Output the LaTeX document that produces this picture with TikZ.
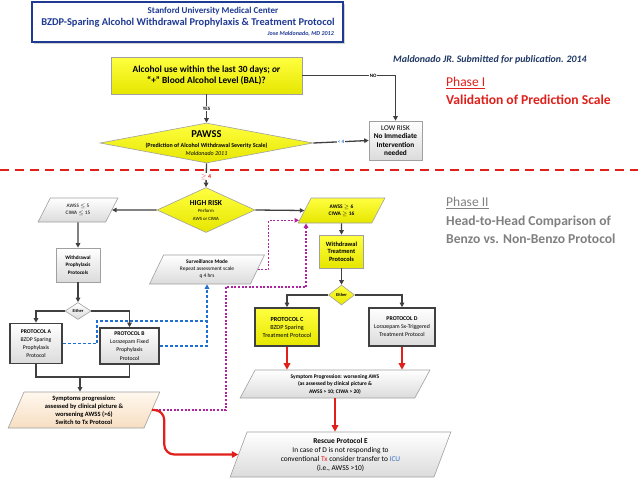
\documentclass[tikz,border=0pt]{standalone}
\usepackage{fontspec}
\setmainfont{Carlito}
\usetikzlibrary{shapes.geometric,arrows.meta,calc,shadows}
\definecolor{hdrblue}{HTML}{1F3A93}
\definecolor{citeblue}{HTML}{203864}
\definecolor{redc}{HTML}{E0201B}
\definecolor{grayt}{HTML}{808080}
\definecolor{dark}{HTML}{404040}
\definecolor{boxgray}{HTML}{A0A0A0}
\definecolor{yel1}{HTML}{FFFF40}
\definecolor{yel2}{HTML}{E6E600}
\definecolor{bluec}{HTML}{1F6FD0}
\definecolor{magc}{HTML}{B0239F}
\definecolor{peach1}{HTML}{FFF8EE}
\definecolor{peach2}{HTML}{F6DEC2}
\definecolor{ltblue}{HTML}{3A6FC0}
\newcommand{\fsz}[2]{\fontsize{#1pt}{#2pt}\selectfont}
\begin{document}
\begin{tikzpicture}[x=1pt,y=-1pt,
  box/.style={draw=boxgray, line width=0.6pt, inner sep=0pt, align=center},
  gfill/.style={top color=white, bottom color=black!14},
  yfill/.style={top color=yel1, bottom color=yel2},
  pfill/.style={top color=peach1, bottom color=peach2},
  protline/.style={draw=dark, line width=1.6pt},
  para/.style={trapezium, trapezium left angle=65, trapezium right angle=115, trapezium stretches=true},
  diam/.style={diamond, draw=boxgray, line width=0.6pt, inner sep=0pt, align=center},
  conn/.style={draw=dark, line width=1.3pt, -{Triangle[length=4.5pt,width=4.5pt]}},
  cline/.style={draw=dark, line width=1.3pt},
  redconn/.style={draw=redc, line width=2.2pt, -{Triangle[length=6.5pt,width=6.5pt]}},
  blued/.style={draw=bluec, line width=1.1pt, dash pattern=on 3pt off 2pt},
  magd/.style={draw=magc, line width=1.2pt, dash pattern=on 2pt off 1.6pt},
  sepline/.style={draw=redc, line width=2pt, dash pattern=on 9pt off 6pt},
  lbl/.style={fill=white, inner sep=1pt, font=\bfseries\fsz{5}{6}},
  txt/.style={inner sep=0pt, align=center}
]
\useasboundingbox (0,0) rectangle (638,479);
\fill[white] (0,0) rectangle (638,479);

% header
\node[draw=hdrblue, line width=1.2pt, fill=white, minimum width=311pt, minimum height=40pt, inner sep=0pt,
  drop shadow={opacity=0.35,shadow xshift=1.5pt,shadow yshift=-1.5pt}] (hdr) at (187.5,22) {};
\node[txt, text=hdrblue, font=\bfseries\fsz{9}{10}] (hdr1) at (213,11) {Stanford University Medical Center};
\node[txt, text=hdrblue, font=\bfseries\fsz{10.4}{12}] (hdr2) at (188,22.5) {BZDP-Sparing Alcohol Withdrawal Prophylaxis \& Treatment Protocol};
\node[txt, text=hdrblue, font=\bfseries\itshape\fsz{6}{7}, anchor=east] (hdr3) at (334,33.5) {Jose Maldonado, MD 2012};

\node[txt, anchor=west, text=citeblue, font=\bfseries\itshape\fsz{9.9}{11}] (cite) at (393,60) {Maldonado JR. Submitted for publication. 2014};

\node[txt, anchor=west, text=redc, font=\fsz{13.5}{15}] (ph1) at (446,83) {\underline{Phase I}};
\node[txt, anchor=west, text=redc, font=\bfseries\fsz{13.6}{15}] (ph1b) at (446,100) {Validation of Prediction Scale};
\node[txt, anchor=west, text=grayt, font=\fsz{13.5}{15}] (ph2) at (446,203) {\underline{Phase II}};
\node[txt, anchor=west, text=grayt, font=\bfseries\fsz{13.6}{15}] (ph2b) at (446,222) {Head-to-Head Comparison of};
\node[txt, anchor=west, text=grayt, font=\bfseries\fsz{13.6}{15}] (ph2c) at (446,239) {Benzo vs. Non-Benzo Protocol};

% separator
\draw[sepline] (0,170) -- (638,170);

% phase I nodes
\node[box, yfill, minimum width=191pt, minimum height=37pt, font=\bfseries\fsz{9.4}{11.5}] (q1) at (206.5,75.5)
  {Alcohol use within the last 30 days; \textit{or}\\“+” Blood Alcohol Level (BAL)?};
\node[box, gfill, minimum width=53pt, minimum height=39pt, font=\fsz{7.3}{8.4}] (low) at (395.5,140.5)
  {LOW RISK\\\textbf{No Immediate}\\\textbf{Intervention}\\\textbf{needed}};
\node[diam, yfill, minimum width=213pt, minimum height=40pt] (pawss) at (206.5,143) {};
\node[txt, font=\fsz{6}{7.2}] (pawsst) at (206.5,143) {{\bfseries\fsz{10.5}{11}PAWSS}\\[3pt]{\bfseries(Prediction of Alcohol Withdrawal Severity Scale)}\\{\itshape Maldonado 2011}};

% phase II nodes
\node[diam, yfill, minimum width=98pt, minimum height=45pt] (highrisk) at (206,210) {};
\node[txt, font=\fsz{4.8}{7.2}] (hrt) at (206,210.5) {{\bfseries\fsz{7.6}{8}HIGH RISK}\\Perform\\AWS or CIWA};

\node[para, box, gfill, minimum width=80pt, minimum height=24pt, font=\fsz{5.2}{7}] (lowsev) at (78,210) {AWSS $\leq$ 5\\CIWA $\leq$ 15};
\node[para, box, yfill, minimum width=87pt, minimum height=25pt, font=\bfseries\fsz{5.4}{7}] (highsev) at (341.5,210.5) {AWSS $\geq$ 6\\CIWA $\geq$ 16};

\node[box, gfill, minimum width=44pt, minimum height=34pt, font=\bfseries\fsz{5.2}{7.4}] (wpp) at (78,265) {Withdrawal\\Prophylaxis\\Protocols};
\node[diam, gfill, minimum width=26pt, minimum height=17pt, font=\bfseries\fsz{4.4}{5}] (eitherL) at (78,311) {Either};
\node[box, gfill, protline, minimum width=52pt, minimum height=40pt, font=\fsz{5.7}{8.2}] (protA) at (36,343.5)
  {\textbf{PROTOCOL A}\\BZDP Sparing\\Prophylaxis\\Protocol};
\node[box, gfill, protline, minimum width=59pt, minimum height=36pt, font=\fsz{5.7}{8.2}] (protB) at (129.5,346)
  {\textbf{PROTOCOL B}\\Lorazepam Fixed\\Prophylaxis\\Protocol};
\node[para, box, pfill, trapezium left angle=70, trapezium right angle=110, minimum width=152pt, minimum height=36pt, font=\bfseries\fsz{6.5}{7.9}] (sympL) at (84,410)
  {Symptoms progression:\\assessed by clinical picture \&\\worsening AWSS (>6)\\Switch to Tx Protocol};

\node[para, box, gfill, minimum width=115pt, minimum height=29pt, font=\fsz{5.4}{7}] (surv) at (207,269.5)
  {\textbf{Surveillance Mode}\\Repeat assessment scale\\q 4 hrs};

\node[box, yfill, minimum width=44pt, minimum height=33pt, font=\bfseries\fsz{6.4}{7.6}] (wtp) at (341.5,251.5) {Withdrawal\\Treatment\\Protocols};
\node[diam, yfill, minimum width=26pt, minimum height=20pt, font=\bfseries\fsz{4.4}{5}] (eitherR) at (341.5,295) {Either};
\node[box, yfill, protline, minimum width=64pt, minimum height=38pt, font=\fsz{6.2}{8}] (protC) at (287,327)
  {\textbf{PROTOCOL C}\\BZDP Sparing\\Treatment Protocol};
\node[box, gfill, protline, minimum width=66pt, minimum height=38pt, font=\fsz{5.8}{8}] (protD) at (402,327)
  {\textbf{PROTOCOL D}\\Lorazepam Sx-Triggered\\Treatment Protocol};
\node[para, box, gfill, trapezium left angle=67, trapezium right angle=113, minimum width=190pt, minimum height=28pt, font=\bfseries\fsz{5.5}{7.5}] (sympR) at (335,384)
  {Symptom Progression: worsening AWS\\(as assessed by clinical picture \&\\AWSS > 10; CIWA > 20)};
\node[para, box, gfill, trapezium left angle=72, trapezium right angle=108, minimum width=221pt, minimum height=45pt, font=\fsz{7.4}{9}] (rescue) at (340.5,454.5)
  {\textbf{Rescue Protocol E}\\In case of D is not responding to\\conventional {\color{redc}Tx} consider transfer to {\color{ltblue}ICU}\\(i.e., AWSS >10)};

% connectors phase I
\draw[conn] (q1.east) -| node[lbl, pos=0.38] (nolbl) {NO} (low.north);
\draw[conn] (q1.south) -- node[lbl] (yeslbl) {YES} (pawss.north);
\draw[conn] (pawss.east) -- node[lbl, text=bluec] (lt4) {< 4} (low.west);
\draw[conn] (pawss.south) -- (highrisk.north);
\node[lbl, text=redc, font=\bfseries\fsz{6}{7}] (ge4) at (206,176.5) {$\geq$ 4};

% connectors left branch
\draw[conn] (highrisk.west) -- (lowsev.east);
\draw[conn] (highrisk.east) -- (highsev.west);
\draw[conn] (lowsev.south) -- (wpp.north);
\draw[conn] (wpp.south) -- (eitherL.north);
\draw[conn] (eitherL.west) -| (protA.north);
\draw[conn] (eitherL.east) -| (protB.north);
\coordinate (mA) at (36,377);
\coordinate (mB) at (129.5,377);
\coordinate (mC) at (80,377);
\draw[cline] (protA.south) -- (mA) -- (mB) -- (protB.south);
\draw[conn] (mC) -- (mC |- sympL.north);

% blue dashed
\coordinate (b1) at (97,321);
\coordinate (b2) at (surv.south |- b1);
\draw[blued, -{Triangle[length=4.5pt,width=4.5pt]}] (protA.east) -| (b1) -| (surv.south);
\draw[blued] (protB.east) -| (b2);

% right branch
\draw[conn] (highsev.south) -- (wtp.north);
\draw[conn] (wtp.south) -- (eitherR.north);
\draw[conn] (eitherR.west) -| (protC.north);
\draw[conn] (eitherR.east) -| (protD.north);
\draw[redconn] (protC.south) -- (protC.south |- sympR.north);
\draw[redconn] (protD.south) -- (protD.south |- sympR.north);
\draw[redconn] (sympR.south) -- (sympR.south |- rescue.north);

% magenta dashed
\coordinate (hsin) at ($(highsev.bottom left corner)+(1.4,-3)$);
\draw[magd, -{Triangle[length=4.5pt,width=4.5pt]}] (surv.east) -- ++(11,0) |- (hsin);
\coordinate (mg1) at (226,287);
\coordinate (mgx) at (306,0);
\draw[magd, -{Triangle[length=4.5pt,width=4.5pt]}] (sympL.east) -| (mg1) -| (mgx |- highsev.south);

% red curve
\draw[redconn, rounded corners=10pt] (sympL.east) -- ++(12,0) |- (rescue.west);
\end{tikzpicture}
\end{document}
